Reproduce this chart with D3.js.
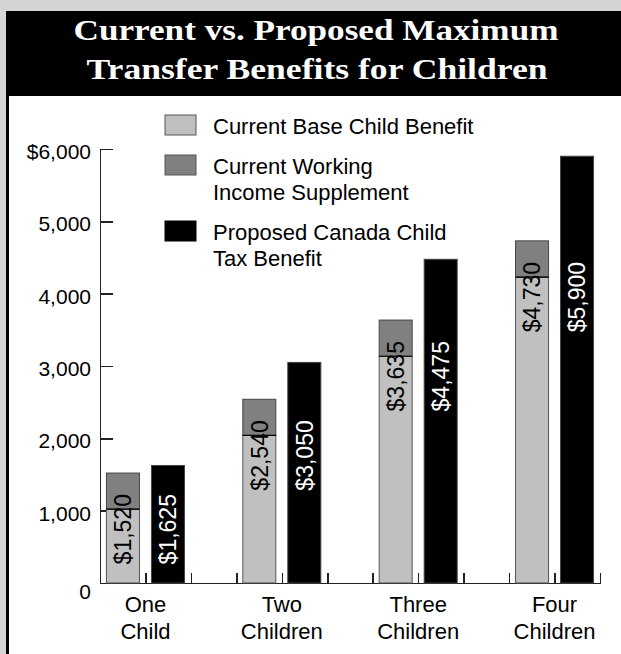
<!DOCTYPE html>
<html>

<head>
  <meta charset="UTF-8">
  <title>child-benefits</title>
  <style type="text/css">
    body {
      margin: 0;
      background: #d4d4d4;
    }

    text {
      font-family: "Liberation Sans", Arial, sans-serif;
      fill: #000;
    }

    .title {
      font-family: "Liberation Serif", "Times New Roman", serif;
      font-weight: bold;
      font-size: 30px;
      fill: #fff;
    }

    .axis path,
    .axis line {
      stroke: #222;
      stroke-width: 1.5px;
      shape-rendering: crispEdges;
    }
  </style>
</head>

<body>
  <div class="svg-zone"></div>
  <script src="https://cdn.jsdelivr.net/npm/d3@7"></script>
  <script type="text/javascript">
    var categories = [["One", "Child"], ["Two", "Children"], ["Three", "Children"], ["Four", "Children"]];
    var baseBenefit = [1020, 2040, 3135, 4230];
    var workingSupplement = [500, 500, 500, 500];
    var proposedBenefit = [1625, 3050, 4475, 5900];
    var currentTotal = [1520, 2540, 3635, 4730];
    var yTicks = [0, 1000, 2000, 3000, 4000, 5000, 6000];
    var legendLabels = [
      ["Current Base Child Benefit"],
      ["Current Working", "Income Supplement"],
      ["Proposed Canada Child", "Tax Benefit"]
    ];
    var legendColors = ["#c0c0c0", "#808080", "#000"];

    var width = 621,
      height = 654;

    var svg = d3.select(".svg-zone").append("svg")
      .attr("width", width)
      .attr("height", height);

    // frame
    svg.append("rect").attr("width", width).attr("height", height).attr("fill", "#d4d4d4");
    svg.append("rect").attr("x", 6).attr("y", 11).attr("width", 630).attr("height", 660).attr("fill", "#000");
    svg.append("rect").attr("x", 9).attr("y", 96).attr("width", 630).attr("height", 600).attr("fill", "#fff");

    // the original face is a wide bold roman, so stretch Times to its width
    svg.append("text").attr("class", "title")
      .attr("x", 316).attr("y", 40).attr("text-anchor", "middle")
      .attr("textLength", 485).attr("lengthAdjust", "spacingAndGlyphs")
      .text("Current vs. Proposed Maximum");
    svg.append("text").attr("class", "title")
      .attr("x", 317).attr("y", 79).attr("text-anchor", "middle")
      .attr("textLength", 461).attr("lengthAdjust", "spacingAndGlyphs")
      .text("Transfer Benefits for Children");

    // scales
    var y = d3.scaleLinear()
      .domain([0, 6000])
      .range([583, 149]);

    var xt = d3.scaleLinear()
      .domain([0, 11])
      .range([100, 600]);

    var x0 = d3.scaleBand()
      .domain(d3.range(categories.length))
      .range([xt(-0.5), xt(11.5)]);

    var half = x0.bandwidth() / 2;
    var x1 = d3.scaleBand()
      .domain(["current", "proposed"])
      .range([half - 39, half + 39])
      .paddingInner(12 / 45);

    // y axis
    svg.append("g").attr("class", "axis")
      .attr("transform", "translate(100,0)")
      .call(d3.axisLeft(y)
        .tickValues(yTicks)
        .tickSize(-13)
        .tickSizeOuter(0)
        .tickPadding(9)
        .tickFormat(function (d) { return d === 6000 ? "$" + d3.format(",")(d) : d3.format(",")(d); }))
      .call(function (g) {
        g.selectAll(".tick text")
          .attr("font-family", null)
          .style("font-size", "21px")
          .attr("dy", function (d) { return d === 0 ? "0.75em" : "0.45em"; });
        g.selectAll(".tick").filter(function (d) { return d === 0; }).select("line").remove();
      });

    // x axis
    svg.append("g").attr("class", "axis")
      .attr("transform", "translate(0,583)")
      .call(d3.axisBottom(xt)
        .tickValues(d3.range(1, 12))
        .tickSize(-10)
        .tickSizeOuter(0)
        .tickFormat(""));

    // bars
    var groups = svg.selectAll(".group")
      .data(categories)
      .enter().append("g")
      .attr("class", "group")
      .attr("transform", function (d, i) { return "translate(" + x0(i) + ",0)"; });

    groups.append("rect")
      .attr("x", x1("current"))
      .attr("width", x1.bandwidth())
      .attr("y", function (d, i) { return y(baseBenefit[i]); })
      .attr("height", function (d, i) { return y(0) - y(baseBenefit[i]); })
      .attr("fill", legendColors[0])
      .attr("stroke", "#555");

    groups.append("rect")
      .attr("x", x1("current"))
      .attr("width", x1.bandwidth())
      .attr("y", function (d, i) { return y(baseBenefit[i] + workingSupplement[i]); })
      .attr("height", function (d, i) { return y(baseBenefit[i]) - y(baseBenefit[i] + workingSupplement[i]); })
      .attr("fill", legendColors[1])
      .attr("stroke", "#444");

    groups.append("line")
      .attr("x1", x1("current"))
      .attr("x2", x1("current") + x1.bandwidth())
      .attr("y1", function (d, i) { return y(baseBenefit[i]); })
      .attr("y2", function (d, i) { return y(baseBenefit[i]); })
      .attr("stroke", "#000")
      .attr("stroke-width", 1.2);

    groups.append("rect")
      .attr("x", x1("proposed"))
      .attr("width", x1.bandwidth())
      .attr("y", function (d, i) { return y(proposedBenefit[i]); })
      .attr("height", function (d, i) { return y(0) - y(proposedBenefit[i]); })
      .attr("fill", legendColors[2])
      .attr("stroke", "#444");

    // value labels, both aligned just under the top of the current bar
    var money = function (v) { return "$" + d3.format(",")(v); };

    groups.append("text")
      .attr("transform", function (d, i) {
        return "translate(" + (x1("current") + x1.bandwidth() / 2) + "," + (y(currentTotal[i]) + 21) + ") rotate(-90)";
      })
      .attr("text-anchor", "end")
      .attr("dy", "0.36em")
      .style("font-size", "23px")
      .text(function (d, i) { return money(currentTotal[i]); });

    groups.append("text")
      .attr("transform", function (d, i) {
        return "translate(" + (x1("proposed") + x1.bandwidth() / 2) + "," + (y(currentTotal[i]) + 21) + ") rotate(-90)";
      })
      .attr("text-anchor", "end")
      .attr("dy", "0.36em")
      .style("font-size", "23px")
      .style("fill", "#fff")
      .text(function (d, i) { return money(proposedBenefit[i]); });

    // category labels
    groups.append("text")
      .attr("x", half)
      .attr("y", 612)
      .attr("text-anchor", "middle")
      .style("font-size", "22px")
      .selectAll("tspan")
      .data(function (d) { return d; })
      .enter().append("tspan")
      .attr("x", half)
      .attr("dy", function (d, i) { return i ? 27 : 0; })
      .text(function (d) { return d; });

    // legend
    var ly = 115;
    legendLabels.forEach(function (lines, i) {
      svg.append("rect")
        .attr("x", 165).attr("y", ly)
        .attr("width", 31).attr("height", 20)
        .attr("fill", legendColors[i])
        .attr("stroke", i < 2 ? "#555" : "#000");
      var t = svg.append("text")
        .attr("y", ly + 19)
        .style("font-size", "22px");
      t.selectAll("tspan")
        .data(lines)
        .enter().append("tspan")
        .attr("x", 213)
        .attr("dy", function (d, j) { return j ? 26 : 0; })
        .text(function (d) { return d; });
      ly += 26 * lines.length + 14;
    });
  </script>

</body>

</html>
